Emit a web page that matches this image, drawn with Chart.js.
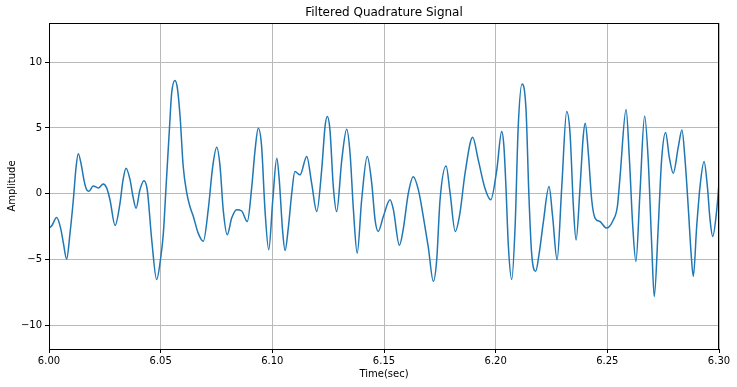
<!DOCTYPE html>
<html>
<head>
<meta charset="utf-8">
<script src="https://cdn.jsdelivr.net/npm/chart.js@4"></script>
<style>
html,body{margin:0;padding:0;background:#fff;}
#wrap{width:737px;height:387px;position:relative;}
</style>
</head>
<body>
<div id="wrap"><canvas id="c"></canvas></div>
<script>
const chartTitle = "Filtered Quadrature Signal";
const xAxisLabel = "Time(sec)";
const yAxisLabel = "Amplitude";
const xTicks = [6.00, 6.05, 6.10, 6.15, 6.20, 6.25, 6.30];
const yTicks = [-10, -5, 0, 5, 10];

const timeSec = [
6.0000,6.0013,6.0034,6.0052,6.0065,6.0079,6.0094,6.0109,6.0121,6.0131,
6.0146,6.0157,6.0169,6.0179,6.0198,6.0221,6.0243,6.0258,6.0273,6.0296,
6.0318,6.0331,6.0345,6.0363,6.0376,6.0390,6.0407,6.0425,6.0440,6.0460,
6.0482,6.0499,6.0512,6.0524,6.0539,6.0549,6.0564,6.0575,6.0587,6.0601,
6.0617,6.0631,6.0646,6.0668,6.0691,6.0713,6.0733,6.0751,6.0766,6.0780,
6.0798,6.0818,6.0840,6.0863,6.0888,6.0908,6.0922,6.0937,6.0952,6.0967,
6.0984,6.1002,6.1020,6.1031,6.1046,6.1057,6.1072,6.1087,6.1101,6.1124,
6.1154,6.1176,6.1199,6.1221,6.1236,6.1246,6.1258,6.1273,6.1288,6.1311,
6.1333,6.1348,6.1363,6.1380,6.1400,6.1425,6.1445,6.1460,6.1474,6.1497,
6.1527,6.1542,6.1569,6.1586,6.1609,6.1631,6.1654,6.1676,6.1698,6.1721,
6.1736,6.1751,6.1778,6.1796,6.1819,6.1840,6.1863,6.1897,6.1922,6.1952,
6.1978,6.2005,6.2027,6.2037,6.2046,6.2057,6.2072,6.2087,6.2101,6.2118,
6.2136,6.2149,6.2161,6.2179,6.2195,6.2213,6.2239,6.2255,6.2275,6.2296,
6.2318,6.2333,6.2348,6.2360,6.2378,6.2392,6.2401,6.2415,6.2430,6.2445,
6.2467,6.2497,6.2527,6.2545,6.2557,6.2584,6.2599,6.2614,6.2628,6.2646,
6.2667,6.2683,6.2699,6.2710,6.2728,6.2743,6.2761,6.2777,6.2795,6.2818,
6.2834,6.2848,6.2863,6.2875,6.2885,6.2900,6.2915,6.2933,6.2948,6.2960,
6.2972,6.2990,6.3000
];

const amplitude = [
-2.6,-2.4,-1.8,-2.6,-3.8,-4.95,-3.0,-0.45,2.0,3.05,
2.07,1.0,0.3,0.2,0.6,0.45,0.75,0.45,-0.45,-2.4,
-0.7,1.0,1.95,1.06,-0.2,-1.09,0.3,1.0,0.3,-3.5,
-6.5,-5.0,-3.0,0.5,4.85,7.6,8.6,8.0,5.85,2.07,
0.05,-0.96,-1.7,-2.98,-3.6,-1.2,2.07,3.53,2.07,-1.2,
-3.1,-1.84,-1.2,-1.3,-2.1,0.55,3.2,4.97,3.6,-1.2,
-4.24,-0.45,2.7,1.06,-2.8,-4.3,-2.5,0.05,1.69,1.44,
2.83,0.81,-1.34,1.82,5.1,5.86,4.85,0.55,-1.34,2.58,
4.9,3.08,-1.2,-4.5,-0.45,2.83,0.81,-1.97,-2.85,-1.72,
-0.45,-1.2,-3.9,-2.7,0.05,1.3,0.3,-1.72,-4.0,-6.64,
-5.0,-0.45,2.12,0.05,-2.85,-1.46,1.57,4.29,2.58,0.43,
-0.45,1.82,4.72,3.58,0.55,-4.0,-6.5,-2.5,5.1,8.33,
6.36,-0.2,-4.5,-5.88,-4.5,-2.2,0.55,-1.72,-5.0,0.55,
6.24,4.6,-0.96,-3.5,0.55,4.34,5.35,3.08,-0.45,-1.84,
-2.1,-2.6,-1.97,-0.96,1.31,6.4,2.58,-2.5,-5.13,0.05,
5.9,2.58,-4.0,-7.78,-2.5,2.58,4.65,2.83,1.57,3.58,
4.85,2.58,-1.2,-4.5,-6.26,-2.5,0.55,2.45,0.55,-1.97,
-3.23,-1.2,0.81
];

const points = timeSec.map((t, i) => ({x: t, y: amplitude[i]}));

const framePlugin = {
  id: 'frame',
  afterDraw(chart) {
    const a = chart.chartArea, ctx = chart.ctx;
    const l = Math.round(a.left), t = Math.round(a.top), r = Math.round(a.right), b = Math.round(a.bottom);
    ctx.save();
    ctx.strokeStyle = '#000';
    ctx.lineWidth = 1;
    ctx.strokeRect(l + 0.5, t + 0.5, r - l - 1, b - t);
    ctx.fillStyle = '#000';
    ctx.font = '12px "DejaVu Sans"';
    ctx.textAlign = 'center';
    ctx.textBaseline = 'middle';
    ctx.fillText(chartTitle, (a.left + a.right) / 2, 12.5);
    ctx.restore();
  }
};

new Chart(document.getElementById('c'), {
  type: 'line',
  data: {
    datasets: [{
      data: points,
      borderColor: '#1f77b4',
      borderWidth: 1.5,
      pointRadius: 0,
      fill: false,
      cubicInterpolationMode: 'monotone'
    }]
  },
  options: {
    responsive: true,
    maintainAspectRatio: false,
    animation: false,
    devicePixelRatio: 1,
    layout: {padding: {left: 0, right: 18, top: 23, bottom: 0}},
    plugins: {legend: {display: false}, tooltip: {enabled: false}, title: {display: false}},
    scales: {
      x: {
        type: 'linear',
        min: 6.0, max: 6.3,
        afterBuildTicks: s => { s.ticks = xTicks.map(v => ({value: v})); },
        afterFit: s => { s.height = 38; },
        ticks: {
          color: '#000', font: {family: 'DejaVu Sans', size: 10}, padding: 2,
          maxRotation: 0, autoSkip: false,
          callback: v => Number(v).toFixed(2)
        },
        grid: {color: '#b9b9b9', lineWidth: 1, tickLength: 4, tickColor: '#000', tickWidth: 1},
        border: {display: false},
        title: {display: true, text: xAxisLabel, color: '#000', font: {family: 'DejaVu Sans', size: 10}, padding: {top: 0, bottom: 7}}
      },
      y: {
        type: 'linear',
        min: -11.77, max: 12.96,
        afterBuildTicks: s => { s.ticks = yTicks.map(v => ({value: v})); },
        afterFit: s => { s.width = 49; },
        ticks: {
          color: '#000', font: {family: 'DejaVu Sans', size: 10}, padding: 3,
          callback: v => (v < 0 ? '\u2212' + Math.abs(v) : String(v))
        },
        grid: {color: '#b9b9b9', lineWidth: 1, tickLength: 4, tickColor: '#000', tickWidth: 1},
        border: {display: false},
        title: {display: true, text: yAxisLabel, color: '#000', font: {family: 'DejaVu Sans', size: 10}, padding: {top: 6, bottom: 0}}
      }
    }
  },
  plugins: [framePlugin]
});
</script>
</body>
</html>
